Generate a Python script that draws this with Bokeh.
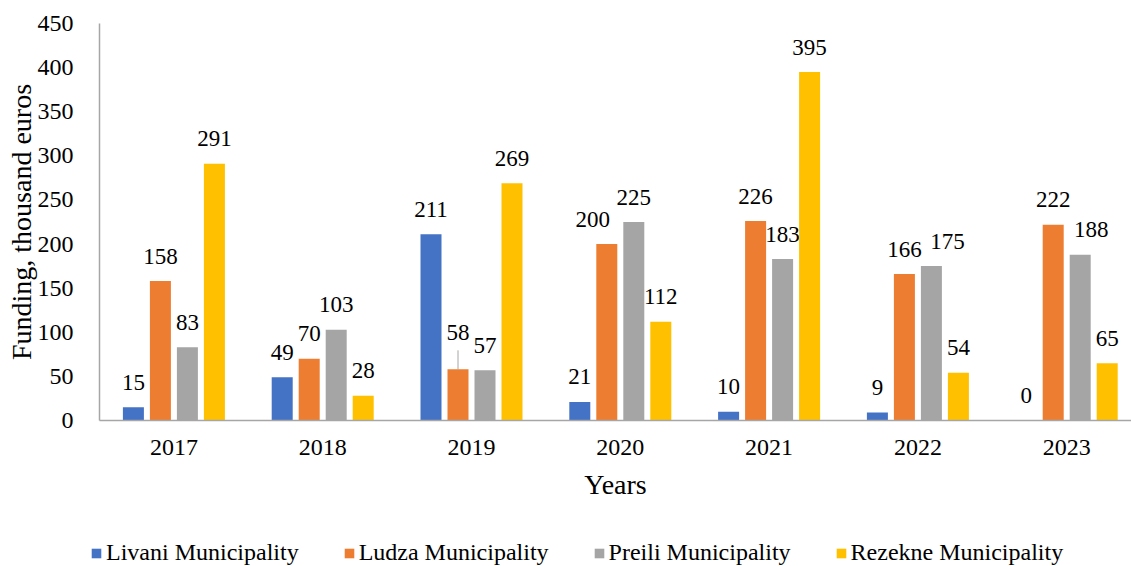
from bokeh.plotting import figure
from bokeh.layouts import column
from bokeh.models import ColumnDataSource, Legend, LegendItem, FixedTicker, Range1d
from bokeh.transform import dodge
from bokeh.core.properties import value
from bokeh.embed import file_html
from bokeh.resources import INLINE

# ---- data ----
years = [2017, 2018, 2019, 2020, 2021, 2022, 2023]
series_names = ["Livani Municipality", "Ludza Municipality",
                "Preili Municipality", "Rezekne Municipality"]
livani = [15, 49, 211, 21, 10, 9, 0]
ludza = [158, 70, 58, 200, 226, 166, 222]
preili = [83, 103, 57, 225, 183, 175, 188]
rezekne = [291, 28, 269, 112, 395, 54, 65]
y_ticks = [0, 50, 100, 150, 200, 250, 300, 350, 400, 450]

# label nudges in pixels (style only)
livani_dx = [0, 0, 0, 0, 0, 0, 0]
ludza_dx = [0, 0, 0, -14, 0, 0, 0]
preili_dx = [0, 0, 0, 0, 0, 16, 11]
rezekne_dx = [0, 0, 0, 0, 0, 0, 0]
livani_dy = [0, 0, 0, 0, 0, 0, 0]
ludza_dy = [0, 0, -12, 0, 0, 0, 0]
preili_dy = [0, 0, 0, 0, 0, 0, 0]
rezekne_dy = [0, 0, 0, 0, 0, 0, 0]
ludza_leader = [0, 0, 19, 0, 0, 0, 0]

colors = ["#4472C4", "#ED7D31", "#A5A5A5", "#FFC000"]
FONT = "Liberation Serif"

W = 1131
TOP = 23
FRAME_H = 397
LEFT = 99
FRAME_W = W - LEFT
MAIN_H = 520
LEG_H = 566 - MAIN_H
PX_PER_CAT = 148.8
BAR_W = 21 / PX_PER_CAT
STEP = 27 / PX_PER_CAT
LABEL_GAP = -25

p = figure(width=W, height=MAIN_H, output_backend="svg", toolbar_location=None,
           x_range=Range1d(2016.5, 2016.5 + FRAME_W / PX_PER_CAT),
           y_range=Range1d(0, 450),
           min_border_left=LEFT, min_border_right=0, min_border_top=TOP,
           min_border_bottom=MAIN_H - TOP - FRAME_H)
p.outline_line_color = None
p.xgrid.visible = False
p.ygrid.visible = False
p.background_fill_color = "white"
p.frame_align = False

all_vals = [livani, ludza, preili, rezekne]
all_dx = [livani_dx, ludza_dx, preili_dx, rezekne_dx]
all_dy = [livani_dy, ludza_dy, preili_dy, rezekne_dy]
offsets = [-1.5 * STEP, -0.5 * STEP, 0.5 * STEP, 1.5 * STEP]
data_per_px = 450 / FRAME_H

sources = []
for i, (name, vals) in enumerate(zip(series_names, all_vals)):
    src = ColumnDataSource(dict(
        year=years, val=vals, lab=[str(v) for v in vals],
        dx=all_dx[i], dy=[d + LABEL_GAP for d in all_dy[i]],
    ))
    sources.append(src)
    p.vbar(x=dodge("year", offsets[i], range=p.x_range), top="val",
           width=BAR_W, bottom=0, source=src,
           fill_color=colors[i], line_color=None)
    p.text(x=dodge("year", offsets[i], range=p.x_range), y="val", text="lab",
           x_offset="dx", y_offset="dy", source=src,
           text_font=value(FONT), text_font_size="23px", text_color="#000000",
           text_align="center", text_baseline="alphabetic")

# leader line for the displaced label
lead_src = ColumnDataSource(dict(
    x=[y + offsets[1] for y, l in zip(years, ludza_leader) if l > 0],
    y0=[v for v, l in zip(ludza, ludza_leader) if l > 0],
    y1=[v + l * data_per_px for v, l in zip(ludza, ludza_leader) if l > 0],
))
p.segment(x0="x", y0="y0", x1="x", y1="y1", source=lead_src,
          line_color="#A6A6A6", line_width=1)

# axes
for ax in (p.xaxis[0], p.yaxis[0]):
    ax.major_tick_line_color = None
    ax.minor_tick_line_color = None
    ax.axis_line_color = "#A6A6A6"
    ax.axis_line_width = 1.5
    ax.major_label_text_font = FONT
    ax.major_label_text_font_size = "24px"
    ax.major_label_text_color = "#000000"
    ax.axis_label_text_font = FONT
    ax.axis_label_text_font_size = "28px"
    ax.axis_label_text_font_style = "normal"
    ax.axis_label_text_color = "#000000"

p.yaxis.ticker = FixedTicker(ticks=y_ticks)
p.yaxis.major_label_standoff = 20
p.yaxis.axis_label = "Funding, thousand euros"
p.yaxis.axis_label_standoff = -2

p.xaxis.ticker = FixedTicker(ticks=years)
p.xaxis.major_label_standoff = 13
p.xaxis.axis_label = "Years"
p.xaxis.axis_label_standoff = 11

# ---- legend strip (same sources; its bars fall outside this strip's range) ----
pl = figure(width=W, height=LEG_H, output_backend="svg", toolbar_location=None,
            x_range=Range1d(0, 1), y_range=Range1d(0, 1),
            x_axis_type=None, y_axis_type=None, min_border=0,
            min_border_left=0, min_border_right=0, min_border_top=0, min_border_bottom=0)
pl.outline_line_color = None
pl.grid.visible = False
pl.frame_align = False
leg_renderers = []
for src, c in zip(sources, colors):
    leg_renderers.append(pl.vbar(x="year", top="val", width=0.1, source=src,
                                 fill_color=c, line_color=None))

legend = Legend(
    items=[LegendItem(label=n, renderers=[r], index=0) for n, r in zip(series_names, leg_renderers)],
    orientation="horizontal", location=(90, 0),
    padding=0, margin=0, spacing=44,
    glyph_width=12, glyph_height=12, label_standoff=4,
    border_line_color=None, background_fill_alpha=0,
    label_text_font=FONT, label_text_font_size="24px", label_text_color="#000000",
)
pl.add_layout(legend)

open("out.html", "w").write(file_html(column(p, pl, spacing=0), INLINE))
